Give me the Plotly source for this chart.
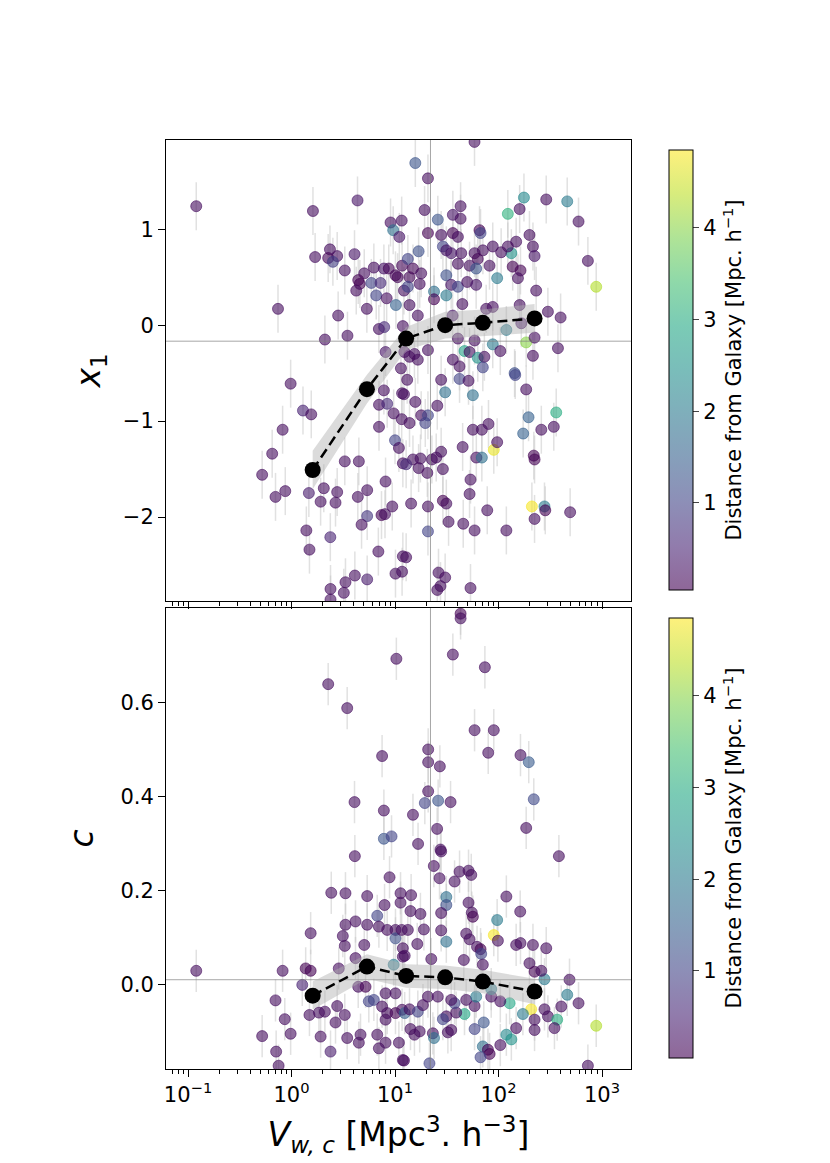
import plotly.graph_objects as go
from plotly.subplots import make_subplots

# ---------------------------------------------------------------- data
# top panel: x1 vs V_wc, colour = distance from Galaxy
x_top = [0.12, 1.61, 4.34, 9.05, 11.6, 9.6, 11.0, 2.35, 1.69, 2.26,
         2.76, 2.51, 4.06, 3.27, 5.04, 6.24, 7.8, 8.7, 10.1, 11.7,
         4.41, 4.57, 4.22, 5.9, 7.24, 6.58, 8.3, 10.2, 12.2, 0.74,
         5.34, 2.82, 6.98, 7.86, 2.1, 3.47, 11.9, 8.1, 11.4, 12.3,
         58.6, 15.7, 20.8, 176, 289, 461, 123, 160, 43, 19.3,
         593, 25.9, 36.2, 43, 65.5, 67, 20.8, 27.9, 36.2, 40.5,
         730, 879, 199, 215, 223, 148, 133, 123, 106, 88,
         70.6, 58.7, 63, 52.5, 60.8, 81.8, 43.6, 40.5, 29, 31.3,
         34.9, 16.9, 13.3, 14.9, 17.9, 10.6, 13.8, 17.3, 31.3, 34.9,
         40.5, 49.8, 60.8, 97, 137, 163, 154, 231, 23.8, 31.3,
         23.8, 13.3, 13.8, 16.6, 44.7, 76, 88, 160, 300, 398,
         36, 119, 166, 185, 223, 375, 46.9, 52.5, 63, 73,
         70.5, 88, 104, 58.7, 40.5, 36.2, 42, 143, 215, 15.4,
         20.8, 16.6, 13.8, 0.98, 1.29, 1.55, 0.82, 0.65, 0.52, 0.70,
         0.87, 1.47, 2.05, 1.91, 2.66, 2.76, 3.27, 4.47, 4.37, 5.38,
         5.38, 4.75, 7.4, 8.0, 9.4, 7.0, 8.1, 10.0, 10.9, 11.9,
         7.0, 8.4, 9.7, 11.6, 11.7, 7.8, 1.39, 1.49, 2.37, 6.9,
         4.09, 5.38, 3.32, 2.38, 3.2, 2.38, 10.1, 11.7, 11.9, 13.1,
         12.2, 15.7, 27.9, 42, 51.3, 30.5, 56.5, 145, 185, 361,
         195, 173, 259, 342, 219, 223, 90, 97, 80, 69,
         56.5, 45, 61, 69, 53.6, 52.5, 27.9, 25, 22.7, 29,
         17.6, 14.9, 12.8, 16.9, 20.5, 13.8, 17.9, 20.8, 19.6, 25.6,
         29, 31.3, 14.3, 20.8, 32.9, 20.8, 45.6, 58.7, 77.8, 119,
         210, 278, 283, 223, 492, 12.8, 26.3, 30.5, 27.5, 25.6, 53.6]
y_top = [1.24, 1.19, 1.30, 1.07, 1.09, 0.99, 0.92, 0.79, 0.71, 0.70,
         0.72, 0.66, 0.74, 0.57, 0.54, 0.60, 0.59, 0.59, 0.52, 0.62,
         0.47, 0.43, 0.36, 0.44, 0.44, 0.31, 0.28, 0.21, 0.36, 0.17,
         0.17, 0.10, -0.04, -0.02, -0.15, -0.11, -0.01, -0.28, -0.45, -0.28,
         1.91, 1.69, 1.53, 1.33, 1.31, 1.29, 1.16, 1.21, 1.24, 1.20,
         1.08, 1.10, 1.15, 1.11, 0.99, 0.96, 0.96, 0.94, 0.96, 0.92,
         0.67, 0.40, 0.94, 0.82, 0.72, 0.87, 0.75, 0.82, 0.76, 0.82,
         0.78, 0.75, 0.69, 0.62, 0.59, 0.62, 0.75, 0.64, 0.82, 0.78,
         0.75, 0.77, 0.69, 0.59, 0.54, 0.50, 0.50, 0.43, 0.52, 0.42,
         0.40, 0.45, 0.42, 0.49, 0.61, 0.57, 0.49, 0.36, 0.35, 0.31,
         0.27, 0.40, 0.21, 0.10, 0.22, 0.17, 0.19, 0.21, 0.14, 0.08,
         0.10, -0.05, 0.02, -0.18, -0.13, -0.24, -0.27, -0.28, -0.34, -0.33,
         -0.44, -0.20, -0.27, -0.16, -0.14, -0.36, -0.43, -0.50, -0.32, -0.30,
         -0.26, -0.36, -0.33, -0.61, -0.89, -0.93, -1.09, -1.34, -1.56, -1.79,
         -1.73, -1.75, -1.70, -1.84, -1.85, -1.74, -1.42, -1.42, -1.79, -1.72,
         -1.99, -2.08, -1.98, -1.97, -1.89, -1.06, -1.63, -1.20, -1.28, -1.44,
         -0.83, -0.82, -0.92, -0.98, -0.71, -0.68, -2.14, -2.34, -2.21, -2.36,
         -2.61, -2.65, -2.68, -2.75, -2.79, -2.86, -2.59, -2.57, -2.41, -0.57,
         -0.72, -0.80, -0.57, -0.56, -0.58, -0.70, -0.73, -0.52, -0.67, -0.91,
         -0.96, -1.13, -1.09, -1.06, -1.36, -1.40, -1.30, -1.22, -1.03, -1.09,
         -1.09, -1.27, -1.38, -1.38, -1.61, -1.76, -1.32, -1.38, -1.40, -1.50,
         -1.39, -1.40, -1.45, -1.49, -1.54, -1.02, -0.94, -0.94, -1.02, -0.84,
         -1.83, -1.86, -1.86, -1.89, -2.05, -2.15, -2.07, -2.14, -1.93, -2.14,
         -1.89, -1.89, -1.93, -2.02, -1.95, -2.42, -2.58, -2.63, -2.72, -2.76, -2.74]
c_top = [.2, .2, .3, .2, .2, 1.8, .3, .2, .2, .1,
         .2, .9, .3, .2, .2, .2, .3, .1, .1, .1,
         .05, .05, .2, 1.0, .6, 1.0, .2, 1.5, .2, .2,
         .2, .2, .2, .6, .2, .2, .2, .3, .2, .2,
         .2, 1.3, .2, 2.3, .2, 2.0, 3.1, .2, .2, .2,
         .2, 1.3, .3, .2, .05, 1.0, .05, .2, .05, .2,
         .2, 4.3, .2, .2, .3, .2, 2.5, .2, .2, .2,
         .2, .2, .1, .2, 1.3, .2, .2, .2, 1.0, .3,
         .3, 1.2, 1.0, .1, .2, .1, .1, .2, 1.2, .3,
         1.0, .2, .3, 2.0, .05, .05, .2, .2, 1.8, 2.0,
         .05, 1.0, .2, .2, .2, .2, .2, .2, .2, .2,
         .3, 2.0, .3, 4.0, .2, .2, 2.8, .2, 2.5, .2,
         1.0, 2.0, .2, .2, .2, .2, .2, 1.2, .2, .2,
         .2, .2, .2, .2, .5, .2, .2, .2, .2, .2,
         .2, .4, .2, .2, .2, .2, .2, .2, .2, .2,
         .8, .2, .05, .2, .2, .2, .2, 1.0, .2, .2,
         .2, .6, .2, .2, .2, .2, .2, .2, .5, .2,
         .2, .4, .2, .2, .2, .2, .2, .2, .2, .2,
         .2, .2, .2, 1.0, .2, 1.8, 1.8, 1.0, .2, 3.0,
         1.5, 1.5, .2, .2, .05, .05, 4.7, .2, .2, .2,
         .2, .2, .2, 1.8, .2, .2, .2, .2, .2, .2,
         .2, .2, .6, .2, .2, .2, .2, 1.0, 1.0, .2,
         .05, .2, .2, .2, .2, 1.0, .2, .2, .2, .2,
         4.8, 2.0, .05, .2, .2, .2, .2, .2, .2, .2, .2]

# bottom panel: c vs V_wc
x_bot = [43, 43, 10.3, 36.2, 73.8, 2.26, 3.45, 58.7, 90, 79.5,
         163, 196, 20.9, 20.9, 27.1, 7.5, 20.9, 26.1, 19.4, 34.4,
         4.06, 7.8, 14.9, 219, 25.5, 185, 7.8, 9.25, 16.7, 27.5,
         4.09, 383, 8.85, 11.3, 11.3, 2.42, 3.32, 5.38, 7.92, 1.53,
         3.32, 4.15, 5.38, 6.73, 6.98, 8.4, 10.1, 10.1, 3.13, 3.27,
         5.04, 11.9, 11.9, 4.15, 9.7, 0.12, 0.82, 1.37, 1.53, 2.86,
         1.27, 0.70, 0.86, 0.52, 0.98, 0.71, 0.75, 1.49, 1.84, 2.1,
         2.76, 3.27, 2.66, 1.91, 2.38, 3.45, 4.47, 4.64, 6.73, 6.98,
         8.1, 10.9, 11.9, 4.41, 5.19, 5.58, 6.24, 8.1, 10.1, 7.5,
         8.4, 10.1, 8.1, 11.7, 27.9, 23.7, 26.9, 37.6, 42, 51.3,
         54.5, 119, 162, 31.3, 31.3, 14.3, 14.1, 17.6, 27.9, 51.3,
         55.2, 56.5, 97, 90, 98.6, 148, 163, 215, 289, 485,
         461, 593, 879, 730, 278, 199, 223, 259, 207, 172,
         278, 300, 369, 404, 223, 223, 347, 148, 128, 104,
         119, 133, 104, 70.5, 79, 82, 67, 72, 58.7, 46.9,
         39, 37.6, 31.3, 29, 34.9, 32.4, 23.2, 23.8, 21.5, 12.2,
         14.1, 15.4, 17.3, 12.4, 13.8, 16.6, 18.6, 20.8, 25.9, 34.9,
         48.7, 58.7, 60.8, 85, 11.6, 13.3, 16.4, 19, 27.9, 31.3,
         48.7, 52.5, 62, 67, 68, 70.5, 12.4, 22.4, 46.2, 85]
y_bot = [0.79, 0.78, 0.694, 0.703, 0.676, 0.640, 0.589, 0.542, 0.542, 0.494,
         0.489, 0.474, 0.501, 0.474, 0.465, 0.487, 0.412, 0.392, 0.387, 0.389,
         0.389, 0.371, 0.362, 0.395, 0.332, 0.334, 0.311, 0.316, 0.300, 0.288,
         0.274, 0.274, 0.229, 0.195, 0.175, 0.196, 0.195, 0.189, 0.170, 0.110,
         0.128, 0.135, 0.128, 0.147, 0.124, 0.117, 0.117, 0.099, 0.104, 0.083,
         0.085, 0.078, 0.060, 0.057, 0.043, 0.030, 0.030, 0.035, 0.030, 0.035,
         0.000, -0.033, -0.073, -0.109, -0.104, -0.142, -0.172, -0.064, -0.059, -0.057,
         -0.045, -0.064, -0.080, -0.110, -0.142, -0.113, -0.123, -0.106, -0.106, -0.135,
         -0.123, -0.123, -0.160, -0.004, -0.004, -0.035, -0.032, -0.018, -0.018, -0.046,
         -0.060, -0.060, -0.074, -0.053, 0.284, 0.253, 0.227, 0.220, 0.241, 0.243,
         0.234, 0.188, 0.156, 0.187, 0.170, 0.191, 0.157, 0.151, 0.153, 0.175,
         0.154, 0.145, 0.138, 0.106, 0.094, 0.085, 0.089, 0.085, 0.078, 0.011,
         -0.021, -0.039, -0.087, -0.172, 0.012, 0.046, 0.028, 0.030, -0.052, -0.062,
         -0.052, -0.067, -0.074, -0.046, -0.074, -0.096, -0.092, -0.092, -0.039, -0.035,
         -0.106, -0.116, -0.128, -0.131, -0.138, -0.147, -0.154, -0.080, -0.094, -0.062,
         -0.059, -0.039, -0.067, -0.073, -0.096, -0.101, -0.103, -0.113, -0.167, -0.161,
         -0.094, -0.106, -0.099, -0.060, -0.052, -0.057, -0.043, -0.025, -0.025, -0.032,
         -0.032, -0.045, -0.025, -0.025, 0.117, 0.117, 0.087, 0.118, 0.116, 0.092,
         0.109, 0.097, 0.081, 0.076, 0.066, 0.043, 0.062, 0.055, 0.053, -0.009]
c_bot = [.05, .2, .2, .2, .2, .2, .2, .2, .2, .2,
         .2, 1.4, .2, .2, .2, .2, .2, 1.3, 1.0, .2,
         .2, .2, .2, 1.1, .2, .2, 1.3, 1.0, .2, .2,
         .2, .2, .2, .2, .2, .2, .2, .2, .2, .2,
         .2, .2, .2, 1.0, .2, .2, .2, 1.2, .2, .2,
         .2, .2, .2, .2, 2.0, .2, .2, .05, .05, .2,
         .5, .2, .2, .2, .2, .2, .2, .2, .2, .2,
         .2, .2, .2, .2, .4, .2, .2, .2, .2, .2,
         .2, .2, .2, .2, .05, 1.0, 1.0, .2, .2, .2,
         .2, .05, .2, .2, .2, .2, .2, .2, .2, .2,
         .2, .2, .2, 1.8, 1.2, .2, .2, .2, .2, .2,
         .2, .05, 2.0, 4.8, .2, .2, .2, .2, .2, .2,
         2.0, .2, 4.3, .2, 2.0, .2, .05, .2, 4.8, 2.0,
         .2, .2, 3.0, .2, .2, .2, .2, .2, 2.9, .2,
         2.3, 2.5, .2, 1.8, .05, .05, 1.0, 1.3, 1.0, 2.9,
         .2, 1.0, .2, 1.0, .2, .2, .2, 1.8, 1.0, .2,
         .2, .2, .2, 1.5, .2, 1.0, .2, .2, .2, .2,
         .2, .2, 2.0, .2, .2, .2, .2, .2, .2, 1.8,
         .2, .2, .2, .05, 1.0, .2, .2, .2, .2, 2.0]
err_top = 0.25
err_bot = 0.045

# binned means with their uncertainty band
bin_x = [1.6, 5.35, 12.8, 30.5, 70.5, 223]
bin_top = [-1.51, -0.667, -0.14, 0.0, 0.024, 0.07]
bin_top_err = [0.2, 0.15, 0.12, 0.14, 0.14, 0.15]
bin_bot = [-0.023, 0.039, 0.019, 0.016, 0.007, -0.014]
bin_bot_err = [0.03, 0.026, 0.025, 0.025, 0.025, 0.027]

# reference lines
ref_x = 22.0
ref_top = -0.167
ref_bot = 0.011

X_RANGE = [-1.213, 3.28]          # log10
Y_TOP_RANGE = [-2.875, 1.93]
Y_BOT_RANGE = [-0.179, 0.802]
C_MIN, C_MAX = 0.05, 4.85

FONT = "DejaVu Sans"
TICK_SIZE = 21
LABEL_SIZE = 33
VIRIDIS = ["#440154", "#482475", "#414487", "#355f8d", "#2a788e", "#21918c",
           "#22a884", "#44bf70", "#7ad151", "#bddf26", "#fde725"]


def rgba(h, a):
    h = h.lstrip("#")
    return f"rgba({int(h[0:2], 16)},{int(h[2:4], 16)},{int(h[4:6], 16)},{a})"


SCALE = [[i / (len(VIRIDIS) - 1), rgba(h, 0.6)] for i, h in enumerate(VIRIDIS)]

fig = make_subplots(rows=2, cols=1, shared_xaxes=True, vertical_spacing=0.0076)


def add_panel(row, xs, ys, cs, err, bx, by, be, ref_y, yrange, cb_y):
    fig.add_trace(go.Scatter(
        x=xs, y=ys, mode="markers", showlegend=False,
        error_y=dict(type="constant", value=err, color="rgba(200,200,200,0.55)",
                     thickness=1.5, width=0),
        marker=dict(size=11, color=cs, colorscale=SCALE, cmin=C_MIN, cmax=C_MAX,
                    line=dict(width=1, color=cs, colorscale=SCALE, cmin=C_MIN, cmax=C_MAX),
                    showscale=True,
                    colorbar=dict(x=1.06, xanchor="left", xref="paper",
                                  y=cb_y, yanchor="top", len=0.495, lenmode="fraction",
                                  thickness=24, outlinewidth=1, outlinecolor="black",
                                  ticks="outside", ticklen=6, tickwidth=1,
                                  tickvals=[1, 2, 3, 4],
                                  tickfont=dict(family=FONT, size=TICK_SIZE, color="black"),
                                  title=dict(text="Distance from Galaxy [Mpc. h<sup>−1</sup>]",
                                             side="right",
                                             font=dict(family=FONT, size=TICK_SIZE, color="black")))),
    ), row=row, col=1)
    # reference lines
    fig.add_trace(go.Scatter(x=[10 ** X_RANGE[0], 10 ** X_RANGE[1]], y=[ref_y, ref_y],
                             mode="lines", line=dict(color="rgba(128,128,128,0.7)", width=1),
                             showlegend=False, hoverinfo="skip"), row=row, col=1)
    fig.add_trace(go.Scatter(x=[ref_x, ref_x], y=yrange,
                             mode="lines", line=dict(color="rgba(128,128,128,0.7)", width=1),
                             showlegend=False, hoverinfo="skip"), row=row, col=1)
    # band
    up = [b + e for b, e in zip(by, be)]
    lo = [b - e for b, e in zip(by, be)]
    fig.add_trace(go.Scatter(x=bx + bx[::-1], y=up + lo[::-1], fill="toself",
                             fillcolor="rgba(175,175,175,0.45)", line=dict(width=0),
                             mode="lines", showlegend=False, hoverinfo="skip"), row=row, col=1)
    fig.add_trace(go.Scatter(x=bx, y=by, mode="lines+markers", showlegend=False,
                             line=dict(color="black", width=2.5, dash="10px,5px"),
                             marker=dict(size=16, color="black")), row=row, col=1)


add_panel(1, x_top, y_top, c_top, err_top, bin_x, bin_top, bin_top_err, ref_top, Y_TOP_RANGE, 1.0)
add_panel(2, x_bot, y_bot, c_bot, err_bot, bin_x, bin_bot, bin_bot_err, ref_bot, Y_BOT_RANGE, 0.4962)

minor_vals = [m * 10 ** e for e in range(-2, 4) for m in range(2, 10)]
axis_common = dict(showline=True, mirror=True, linecolor="black", linewidth=1,
                   showgrid=False, zeroline=False, ticks="outside", ticklen=7,
                   tickwidth=1, tickcolor="black", automargin=False,
                   tickfont=dict(family=FONT, size=TICK_SIZE, color="black"))
for r in (1, 2):
    fig.update_xaxes(type="log", range=X_RANGE, tickmode="array",
                     tickvals=[0.1, 1, 10, 100, 1000],
                     ticktext=["10<sup>−1</sup>", "10<sup>0</sup>", "10<sup>1</sup>",
                               "10<sup>2</sup>", "10<sup>3</sup>"],
                     showticklabels=(r == 2),
                     minor=dict(tickmode="array", tickvals=minor_vals, ticks="outside",
                                ticklen=4, tickwidth=0.8, tickcolor="black"),
                     **axis_common, row=r, col=1)

fig.update_xaxes(title=dict(text="<i>V</i><sub><i>w, c</i></sub> [Mpc<sup>3</sup>. h<sup>−3</sup>]",
                            font=dict(family=FONT, size=LABEL_SIZE, color="black"), standoff=16),
                 row=2, col=1)
fig.update_yaxes(range=Y_TOP_RANGE, tickmode="array", tickvals=[-2, -1, 0, 1],
                 ticktext=["−2", "−1", "0", "1"],
                 title=dict(text="<i>x</i><sub>1</sub>", standoff=12,
                            font=dict(family=FONT, size=LABEL_SIZE, color="black")),
                 **axis_common, row=1, col=1)
fig.update_yaxes(range=Y_BOT_RANGE, tickmode="array", tickvals=[0.0, 0.2, 0.4, 0.6],
                 ticktext=["0.0", "0.2", "0.4", "0.6"],
                 title=dict(text="<i>c</i>", standoff=16,
                            font=dict(family=FONT, size=LABEL_SIZE, color="black")),
                 **axis_common, row=2, col=1)

# the page body adds 8px around the plot, so the figure is drawn 8px smaller
fig.update_layout(
    width=822, height=1155,
    margin=dict(l=158, r=199, t=132, b=94),
    plot_bgcolor="white", paper_bgcolor="white",
    font=dict(family=FONT, color="black"),
    showlegend=False,
)
fig.layout.yaxis.domain = [0.5038, 1.0]
fig.layout.yaxis2.domain = [0.0, 0.4962]

fig.write_html("out.html")
